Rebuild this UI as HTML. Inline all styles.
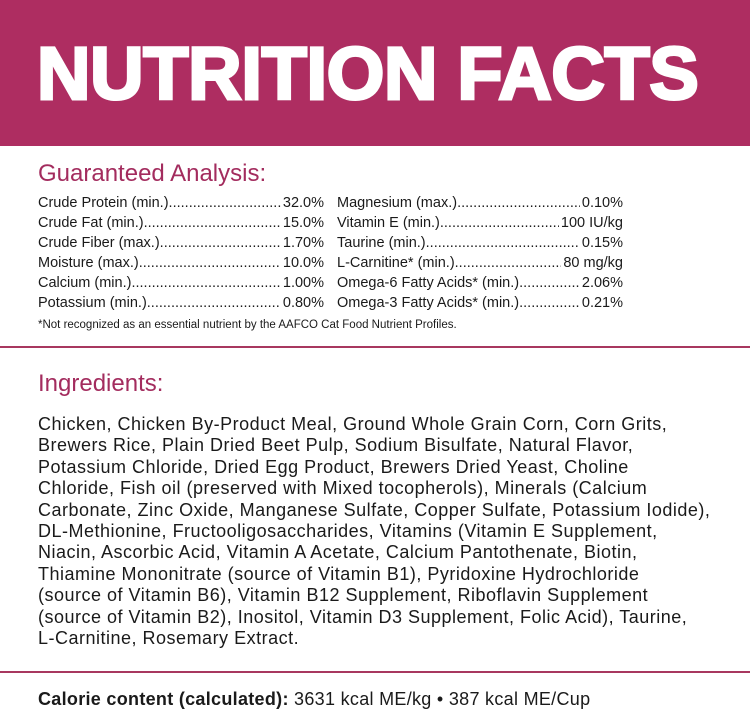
<!DOCTYPE html>
<html><head><meta charset="utf-8"><style>
*{margin:0;padding:0;box-sizing:border-box}
body{width:750px;height:712px;background:#fff;font-family:"Liberation Sans",sans-serif;color:#1a1a1a;position:relative;overflow:hidden}
#hdr{position:absolute;left:0;top:0;width:750px;height:146px;background:#ae2d61}
#title{position:absolute;left:37px;top:30px;font-size:74px;font-weight:bold;color:#fff;-webkit-text-stroke:3px #fff;letter-spacing:-0.3px;white-space:nowrap;line-height:88px}
.rule{position:absolute;left:0;width:750px;height:2px;background:#a8385f}
h2{position:absolute;left:38px;font-weight:normal;font-size:24px;color:#a32c5e;white-space:nowrap}
.col{position:absolute;top:193px;width:286px}
.row{display:flex;height:20px;line-height:20px;font-size:14.5px;white-space:nowrap}
.row .l{flex:0 0 auto}
.row .d{flex:1 1 auto;overflow:hidden}
.row .d:after{content:"..................................................................................................................";}
.row .v{flex:0 0 auto;padding-left:2px}
#note{position:absolute;left:38px;top:319px;font-size:11.5px;white-space:nowrap}
#ing{position:absolute;left:38px;top:414px;font-size:18px;letter-spacing:0.5px;line-height:21.4px;white-space:nowrap}
#cal{position:absolute;left:38px;top:689px;font-size:18px;letter-spacing:0.3px;white-space:nowrap}
</style></head><body>
<div id="hdr"><div id="title">NUTRITION FACTS</div></div>
<h2 style="top:160px">Guaranteed Analysis:</h2>
<div class="col" style="left:38px">
<div class="row"><span class="l">Crude Protein (min.)</span><span class="d"></span><span class="v">32.0%</span></div>
<div class="row"><span class="l">Crude Fat (min.)</span><span class="d"></span><span class="v">15.0%</span></div>
<div class="row"><span class="l">Crude Fiber (max.) </span><span class="d"></span><span class="v">1.70%</span></div>
<div class="row"><span class="l">Moisture (max.)</span><span class="d"></span><span class="v">10.0%</span></div>
<div class="row"><span class="l">Calcium (min.)</span><span class="d"></span><span class="v">1.00%</span></div>
<div class="row"><span class="l">Potassium (min.) </span><span class="d"></span><span class="v">0.80%</span></div>
</div>
<div class="col" style="left:337px">
<div class="row"><span class="l">Magnesium (max.)</span><span class="d"></span><span class="v">0.10%</span></div>
<div class="row"><span class="l">Vitamin E (min.)</span><span class="d"></span><span class="v">100 IU/kg</span></div>
<div class="row"><span class="l">Taurine (min.)</span><span class="d"></span><span class="v">0.15%</span></div>
<div class="row"><span class="l">L-Carnitine* (min.) </span><span class="d"></span><span class="v">80 mg/kg</span></div>
<div class="row"><span class="l">Omega-6 Fatty Acids* (min.) </span><span class="d"></span><span class="v">2.06%</span></div>
<div class="row"><span class="l">Omega-3 Fatty Acids* (min.) </span><span class="d"></span><span class="v">0.21%</span></div>
</div>
<div id="note">*Not recognized as an essential nutrient by the AAFCO Cat Food Nutrient Profiles.</div>
<div class="rule" style="top:346px"></div>
<h2 style="top:370px">Ingredients:</h2>
<div id="ing">Chicken, Chicken By-Product Meal, Ground Whole Grain Corn, Corn Grits,<br>Brewers Rice, Plain Dried Beet Pulp, Sodium Bisulfate, Natural Flavor,<br>Potassium Chloride, Dried Egg Product, Brewers Dried Yeast, Choline<br>Chloride, Fish oil (preserved with Mixed tocopherols), Minerals (Calcium<br>Carbonate, Zinc Oxide, Manganese Sulfate, Copper Sulfate, Potassium Iodide),<br>DL-Methionine, Fructooligosaccharides, Vitamins (Vitamin E Supplement,<br>Niacin, Ascorbic Acid, Vitamin A Acetate, Calcium Pantothenate, Biotin,<br>Thiamine Mononitrate (source of Vitamin B1), Pyridoxine Hydrochloride<br>(source of Vitamin B6), Vitamin B12 Supplement, Riboflavin Supplement<br>(source of Vitamin B2), Inositol, Vitamin D3 Supplement, Folic Acid), Taurine,<br>L-Carnitine, Rosemary Extract.</div>
<div class="rule" style="top:671px"></div>
<div id="cal"><b>Calorie content (calculated):</b> 3631 kcal ME/kg • 387 kcal ME/Cup</div>
</body></html>
